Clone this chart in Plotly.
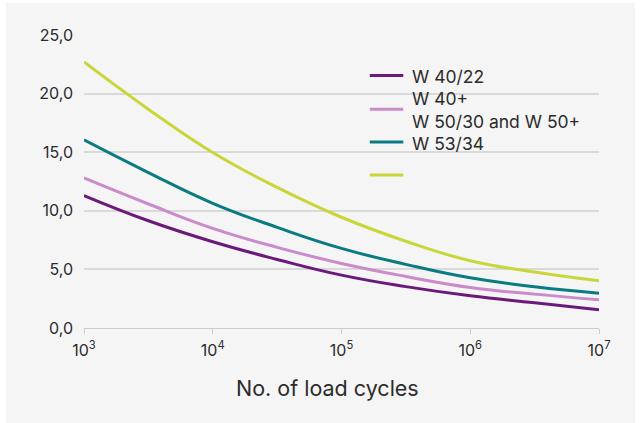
import plotly.graph_objects as go

# load cycles (log decades, half-decade steps)
cycles = [1e3, 10**3.5, 1e4, 10**4.5, 1e5, 10**5.5, 1e6, 10**6.5, 1e7]

w40_22 = [11.3, 9.15, 7.36, 5.85, 4.51, 3.53, 2.75, 2.15, 1.55]
w40_plus = [12.8, 10.58, 8.5, 6.88, 5.51, 4.4, 3.46, 2.89, 2.4]
w53_34 = [16.05, 13.26, 10.64, 8.59, 6.79, 5.43, 4.28, 3.52, 2.97]
w_top = [22.7, 18.67, 14.97, 12.0, 9.45, 7.4, 5.74, 4.78, 4.03]

series_names = ["W 40/22", "W 40+<br>W 50/30 and W 50+", "W 53/34", ""]
series_colors = ["#6b1a7b", "#c98bc9", "#0b7b82", "#c9d63a"]

x_tickvals = [1e3, 1e4, 1e5, 1e6, 1e7]
x_ticktext = ["10<sup>3</sup>", "10<sup>4</sup>", "10<sup>5</sup>", "10<sup>6</sup>", "10<sup>7</sup>"]
y_tickvals = [0, 5, 10, 15, 20, 25]

PANEL_BG = "#f5f5f5"
TEXT_COLOR = "#2b2b2b"
GRID_COLOR = "#d9d9d9"
FONT_FAMILY = "Inter, Roboto, sans-serif"

fig = go.Figure()
for name, ys, color in zip(series_names, [w40_22, w40_plus, w53_34, w_top], series_colors):
    fig.add_trace(go.Scatter(
        x=cycles, y=ys,
        name=name,
        mode="lines",
        line=dict(color=color, width=3, shape="spline", smoothing=1.3),
        showlegend=False,
    ))

# light grey panel behind the chart
fig.add_shape(
    type="rect", xref="paper", yref="paper", layer="below",
    x0=-0.1515, x1=1.07, y0=-0.33, y1=1.110,
    fillcolor=PANEL_BG, line_width=0,
)

# hand-drawn legend (plotly's own legend pads entries too much)
fig.add_shape(
    type="rect", xref="paper", yref="paper", layer="between",
    x0=0.542, x1=0.967, y0=0.469, y1=0.915,
    fillcolor=PANEL_BG, line_width=0,
)
legend_rows = [0.862, 0.747, 0.635, 0.522]  # paper y of each legend line sample
for name, color, ly in zip(series_names, series_colors, legend_rows):
    fig.add_shape(
        type="line", xref="paper", yref="paper", layer="above",
        x0=0.555, x1=0.620, y0=ly, y1=ly,
        line=dict(color=color, width=3),
    )
    if name:
        fig.add_annotation(
            text=name, xref="paper", yref="paper",
            x=0.633, y=ly - 0.004, xanchor="left", yanchor="middle",
            align="left", showarrow=False,
            font=dict(size=17.5, color=TEXT_COLOR),
        )

# axis title sits a little left of the plot centre
fig.add_annotation(
    text="No. of load cycles",
    xref="paper", yref="paper", x=0.473, y=-0.205,
    xanchor="center", yanchor="middle", showarrow=False,
    font=dict(size=21.5, color=TEXT_COLOR),
)

fig.update_layout(
    width=642, height=423,
    margin=dict(l=84, r=43, t=35, b=95),
    paper_bgcolor="white",
    plot_bgcolor=PANEL_BG,
    separators=",.",
    font=dict(family=FONT_FAMILY, color=TEXT_COLOR, size=16),
    showlegend=False,
    xaxis=dict(
        type="log",
        range=[3, 7],
        tickvals=x_tickvals,
        ticktext=x_ticktext,
        ticks="outside", ticklen=5, tickcolor="#cccccc",
        showline=True, linecolor="#cccccc", linewidth=1,
        showgrid=False, zeroline=False,
        ticklabelstandoff=3,
        tickfont=dict(size=16, color=TEXT_COLOR),
    ),
    yaxis=dict(
        range=[0, 25],
        tickvals=y_tickvals,
        tickformat=".1f",
        showgrid=True, gridcolor=GRID_COLOR, gridwidth=1.5,
        zeroline=False, showline=False,
        ticklabelstandoff=10,
        tickfont=dict(size=16, color=TEXT_COLOR),
    ),
)

fig.write_html(
    "out.html",
    config={"displayModeBar": False},
    post_script="document.body.style.margin='0';",
)
